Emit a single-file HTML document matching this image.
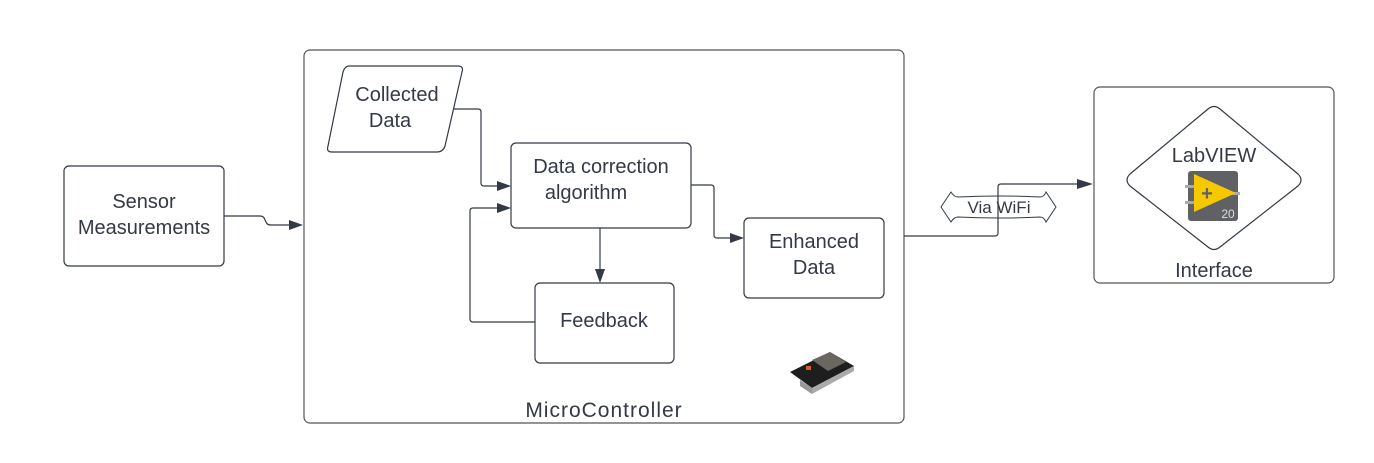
<!DOCTYPE html>
<html><head><meta charset="utf-8"><style>
html,body{margin:0;padding:0;background:#fff;}
svg{display:block;}
text{font-family:"Liberation Sans",sans-serif;fill:#333a45;}
</style></head><body>
<svg width="1374" height="463" viewBox="0 0 1374 463" xmlns="http://www.w3.org/2000/svg">
<g fill="none" stroke="#333a45" stroke-width="1.2">
<rect x="64" y="166" width="160" height="100" rx="5"/>
<rect x="304" y="50" width="600" height="373" rx="6" stroke="#555"/>
<path d="M349,66 L458,66 Q464,66 462,72 L445,146 Q443,152 437,152 L332,152 Q326,152 328,146 L343,72 Q345,66 349,66 Z"/>
<rect x="511" y="143" width="180" height="85" rx="5"/>
<rect x="744" y="218" width="140" height="80" rx="5"/>
<rect x="535" y="283" width="139" height="80" rx="5"/>
<rect x="1094" y="87" width="240" height="196" rx="6" stroke="#555"/>
<path d="M1208,109 Q1214,104 1220,109 L1298,174 Q1304,180 1298,186 L1220,247 Q1214,252 1208,247 L1130,186 Q1124,180 1130,174 Z"/>
</g>
<g fill="none" stroke="#333a45" stroke-width="1.2">
<path d="M224,216 L260,216 Q264,216 265,220 L266,222 Q267,225 271,225 L292,225"/>
<path d="M453,109 L478,109 Q481,109 481,112 L481,183 Q481,186 484,186 L500,186"/>
<path d="M691,185 L711,185 Q714,185 714,188 L714,235 Q714,238 717,238 L733,238"/>
<path d="M600,228 L600,272"/>
<path d="M535,322 L473,322 Q470,322 470,319 L470,211 Q470,208 473,208 L500,208"/>
</g>
<g fill="#333a45">
<path d="M303,225 L289,220 L289,230 Z"/>
<path d="M511,186 L497,181 L497,191 Z"/>
<path d="M511,208 L497,203 L497,213 Z"/>
<path d="M744,238 L730,233 L730,243 Z"/>
<path d="M600,283 L595,269 L605,269 Z"/>
<path d="M1093,184 L1077,179 L1077,189 Z"/>
</g>
<path d="M958,197 Q1000,195 1040,197 Q1044,197 1046,192 L1056,207 L1046,222 Q1044,217 1040,217 Q1000,219 958,217 Q954,217 951,222 L941,207 L951,192 Q954,197 958,197 Z" fill="#fff" stroke="#333a45" stroke-width="1"/>
<text x="999" y="213" font-size="17" text-anchor="middle">Via WiFi</text>
<path d="M904,236 L995,236 Q998,236 998,233 L998,187 Q998,184 1001,184 L1083,184" fill="none" stroke="#333a45" stroke-width="1.2"/>
<g font-size="20" text-anchor="middle">
<text x="144" y="208">Sensor</text>
<text x="144" y="234">Measurements</text>
<text x="397" y="101">Collected</text>
<text x="390" y="127">Data</text>
<text x="601" y="173">Data correction</text>
<text x="586" y="199">algorithm</text>
<text x="814" y="248">Enhanced</text>
<text x="814" y="274">Data</text>
<text x="604" y="327">Feedback</text>
<text x="1214" y="162">LabVIEW</text>
<text x="1214" y="277">Interface</text>
<text x="604" y="417" font-size="21" letter-spacing="1">MicroController</text>
</g>
<rect x="1188" y="171" width="50" height="50" rx="3" fill="#5f6164"/>
<rect x="1185" y="185" width="12" height="3" fill="#aaa"/>
<rect x="1185" y="201" width="12" height="3" fill="#aaa"/>
<rect x="1228" y="192" width="12" height="3" fill="#aaa"/>
<path d="M1194,174 L1236,193 L1194,212 Z" fill="#f5c800"/>
<text x="1207" y="200" font-size="20" font-weight="bold" text-anchor="middle" style="fill:#5f6164">+</text>
<text x="1228" y="218" font-size="12" text-anchor="middle" style="fill:#ddd">20</text>
<g>
<path d="M790,372 L830,352 L854,366 L812,388 Z" fill="#1e1e1e"/>
<path d="M812,360 L830,352 L846,362 L828,371 Z" fill="#6a6660"/>
<rect x="806" y="366" width="5" height="4" fill="#d06030"/>
<path d="M800,380 L812,388 L812,394 L800,386 Z" fill="#999"/>
<path d="M812,388 L854,366 L854,371 L812,394 Z" fill="#aaa"/>
</g>
</svg>
</body></html>
